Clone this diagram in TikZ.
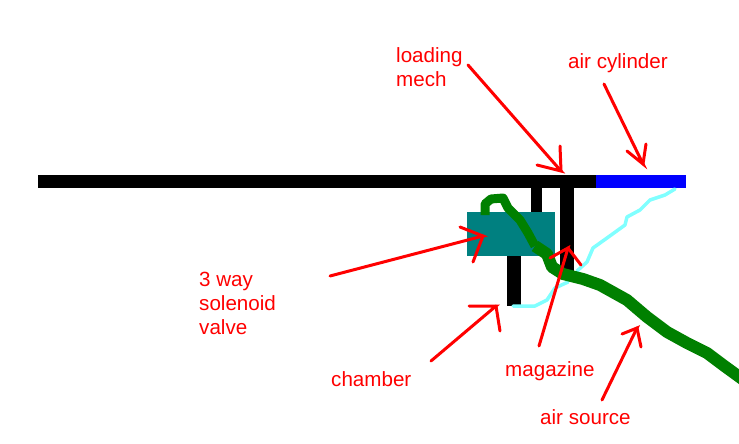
\documentclass[tikz,border=0pt]{standalone}
\usepackage{fontspec}
\setmainfont{Liberation Sans}
\definecolor{pipegreen}{RGB}{0,128,0}
\definecolor{hosecyan}{RGB}{128,255,255}
\definecolor{valveteal}{RGB}{0,128,128}
\tikzset{
    lbl/.style={red, anchor=base west, inner sep=0pt, align=left, font=\fontsize{20.6}{24}\selectfont},
    arw/.style={red, line width=3pt, line cap=round},
    airpipe/.style={pipegreen, line width=9pt, line join=round},
    airhose/.style={hosecyan, line width=3.5pt, line join=round, line cap=round}
}
\begin{document}
\begin{tikzpicture}[x=1pt, y=-1pt]
\useasboundingbox (0,0) rectangle (739,444);

\fill[black] (38,175) rectangle (596,188);
\fill[blue] (596,175) rectangle (686,188);
\fill[black] (531,188) rectangle (542,212);
\fill[black] (560,188) rectangle (574,272);
\fill[black] (507,256) rectangle (521,306);
\fill[valveteal] (467,212) rectangle (555,256);

\draw[airhose] (675,189) -- (665,195) -- (650,200) -- (640,210) -- (627,217) -- (625,225) -- (607,238) -- (593,248) -- (587,262) -- (577,271);
\draw[airhose] (568,282) -- (555,288) -- (547,300) -- (535,306) -- (513,306);
\draw[airpipe] (485,215) -- (485,204) -- (491,199) -- (503,198) -- (508,208) -- (520,220) -- (528,233) -- (535,246);
\draw[airpipe, line width=12pt] (535,246) -- (547,254) -- (552,267) -- (563,274) -- (583,279) -- (600,285) -- (627,300) -- (647,317) -- (667,332) -- (687,343) -- (707,353) -- (723,365) -- (745,381);

\node[lbl] (L) at (396,86) {loading\\mech};
\node[lbl] (A) at (568,69) {air cylinder};
\node[lbl] (V) at (199,334) {3 way\\solenoid\\valve};
\node[lbl] (C) at (331,386) {chamber};
\node[lbl] (M) at (505,376) {magazine};
\node[lbl] (S) at (540,424) {air source};

\coordinate (L0) at (468,65);
\coordinate (L1) at (561,171);
\coordinate (L2) at (537,165);
\coordinate (L3) at (560,146);
\coordinate (A0) at (604,84);
\coordinate (A1) at (643,164);
\coordinate (A2) at (627,151);
\coordinate (A3) at (646,144);
\coordinate (V0) at (330,276);
\coordinate (V1) at (483,236);
\coordinate (V2) at (460,227);
\coordinate (V3) at (473,262);
\coordinate (C0) at (431,361);
\coordinate (C1) at (496,306);
\coordinate (C2) at (469,306);
\coordinate (C3) at (500,331);
\coordinate (M0) at (539,346);
\coordinate (M1) at (568,248);
\coordinate (M2) at (550,258);
\coordinate (M3) at (581,265);
\coordinate (S0) at (602,400);
\coordinate (S1) at (637,328);
\coordinate (S2) at (622,334);
\coordinate (S3) at (641,347);

\draw[arw] (L0) -- (L1) -- (L2);
\draw[arw] (L1) -- (L3);
\draw[arw] (A0) -- (A1) -- (A2);
\draw[arw] (A1) -- (A3);
\draw[arw] (V0) -- (V1) -- (V2);
\draw[arw] (V1) -- (V3);
\draw[arw] (C0) -- (C1) -- (C2);
\draw[arw] (C1) -- (C3);
\draw[arw] (M0) -- (M1) -- (M2);
\draw[arw] (M1) -- (M3);
\draw[arw] (S0) -- (S1) -- (S2);
\draw[arw] (S1) -- (S3);
\end{tikzpicture}
\end{document}
